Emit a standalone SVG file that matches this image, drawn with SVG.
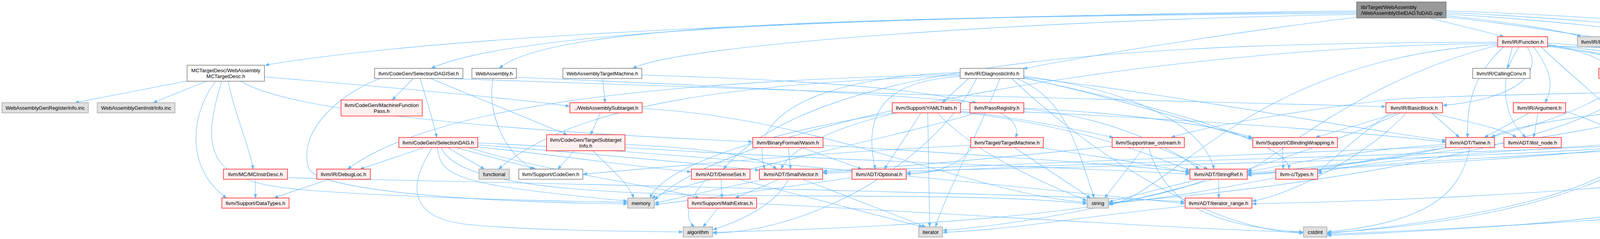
<svg xmlns="http://www.w3.org/2000/svg" width="4851" height="612" viewBox="0 0 4851 612">
<style>
text{font-family:"Liberation Sans",Arial,Helvetica,sans-serif;font-size:13.33px;text-anchor:middle;fill:#000}
.r rect{fill:#fff0f0;stroke:#ff0000;stroke-width:1.3}
.w rect{fill:#ffffff;stroke:#666666;stroke-width:1.3}
.g rect{fill:#e0e0e0;stroke:#999999;stroke-width:1.3}
.m rect{fill:#999999;stroke:#666666;stroke-width:1.3}
.m text{text-anchor:start}
#edges path{fill:none;stroke:#63b8ff;stroke-width:1.1;marker-end:url(#arr)}
</style>
<defs>
<marker id="arr" markerWidth="11" markerHeight="8" refX="10" refY="4" orient="auto" markerUnits="userSpaceOnUse">
<path d="M0,0 L10,4 L0,8 z" fill="#63b8ff" stroke="#63b8ff" stroke-width="0.5"/>
</marker>
</defs>
<rect x="0" y="0" width="4851" height="612" fill="#ffffff"/>
<g id="edges">
<path d="M3473,28 C2600,38 1250,70 679,167"/>
<path d="M3473,31 C2450,42 1350,62 1104,175"/>
<path d="M3473,34 C2300,44 1420,54 1278,175"/>
<path d="M3473,37 C2700,50 1750,110 1620,175"/>
<path d="M3473,44 C3100,90 2750,150 2620,176"/>
<path d="M3660,46 C3720,62 3800,80 3850,94"/>
<path d="M3702,40 C3850,55 4000,78 4048,94"/>
<path d="M3702,36 C3950,50 4200,78 4280,94"/>
<path d="M3702,32 C4000,45 4360,78 4458,94"/>
<path d="M3702,28 C4050,38 4500,75 4655,94"/>
<path d="M3702,44 C3900,60 4200,125 4500,138 C4625,145 4630,205 4580,214 C4400,240 3700,240 3550,256 C3350,280 3100,320 2998,352"/>
<path d="M480,207 L192,263"/>
<path d="M528,208 L392,263"/>
<path d="M617,208 C760,300 1500,345 1926,363"/>
<path d="M584,208 C600,290 640,380 648,433"/>
<path d="M553,208 C500,270 460,420 580,507"/>
<path d="M568,208 C500,420 560,470 800,488 S1400,515 1606,518"/>
<path d="M677,197 C900,215 1300,250 1458,272"/>
<path d="M654,459 L654,507"/>
<path d="M736,455 C1400,470 2800,500 3033,517"/>
<path d="M1058,201 L1004,256"/>
<path d="M1076,201 C1092,260 1110,310 1118,352"/>
<path d="M1102,201 L1452,345"/>
<path d="M1140,201 C1700,225 3000,262 3547,273"/>
<path d="M973,201 C880,235 760,330 790,430 C815,495 1300,520 1606,522"/>
<path d="M1262,201 C1245,300 1300,400 1366,433"/>
<path d="M1322,198 C1800,218 2300,242 2500,263"/>
<path d="M1543,201 L1549,263"/>
<path d="M1643,192 C2200,210 2640,240 2600,352"/>
<path d="M1537,289 L1512,345"/>
<path d="M1644,278 C2100,300 2500,500 2782,518"/>
<path d="M1085,378 L922,433"/>
<path d="M1146,378 L1240,433"/>
<path d="M1167,378 L1372,433"/>
<path d="M1107,378 C1040,480 1050,560 1200,575 S1600,592 1748,594"/>
<path d="M1120,378 C1125,460 1200,475 1606,515"/>
<path d="M1130,378 C1200,560 2300,470 2782,522"/>
<path d="M1223,376 C1450,400 1650,430 1769,440"/>
<path d="M1223,371 C1500,392 1800,420 1943,436"/>
<path d="M1223,366 C1800,390 2700,490 3033,521"/>
<path d="M1200,378 C1400,440 1650,470 1790,507"/>
<path d="M1470,386 L1428,433"/>
<path d="M1518,386 C1560,430 1610,470 1622,507"/>
<path d="M1600,370 C1800,378 1950,400 1988,433"/>
<path d="M1600,378 C2200,415 2800,430 3045,446"/>
<path d="M2018,378 L2024,433"/>
<path d="M2054,378 L2206,433"/>
<path d="M2107,372 C2500,395 2900,425 3045,440"/>
<path d="M2597,378 L2792,507"/>
<path d="M2662,378 C2800,400 2950,420 3045,443"/>
<path d="M2485,372 C2100,390 1700,428 1493,446"/>
<path d="M2490,378 C2450,425 2400,444 2321,446"/>
<path d="M2968,378 L3092,433"/>
<path d="M2928,378 L2828,507"/>
<path d="M2941,378 C2980,520 3100,580 3336,594"/>
<path d="M2847,374 C2600,400 2300,430 2107,438"/>
<path d="M3283,378 L3285,433"/>
<path d="M3701,370 C3500,380 3300,420 3194,440"/>
<path d="M3701,375 C3300,395 2500,422 2107,441"/>
<path d="M3762,378 C3740,500 3650,570 3398,594"/>
<path d="M3705,378 C3400,420 3100,500 2839,521"/>
<path d="M3120,459 L3120,507"/>
<path d="M3068,459 L2839,517"/>
<path d="M3088,459 C2900,540 2400,580 1825,595"/>
<path d="M3034,528 C2800,550 2600,588 2414,595"/>
<path d="M1838,533 L1800,581"/>
<path d="M1937,521 C2500,550 3000,585 3336,595"/>
<path d="M1808,459 C1770,500 1745,555 1778,581"/>
<path d="M1846,459 L1848,507"/>
<path d="M1890,459 L2362,581"/>
<path d="M1960,459 C1850,480 1750,505 1676,520"/>
<path d="M1995,459 L1882,507"/>
<path d="M2018,459 C1990,520 1900,565 1825,588"/>
<path d="M2055,459 L2370,581"/>
<path d="M2181,455 C2000,480 1800,510 1676,524"/>
<path d="M3888,120 L3858,175"/>
<path d="M3909,120 C3950,180 3900,250 3694,270"/>
<path d="M3926,120 C3970,180 3980,220 3955,263"/>
<path d="M3962,113 C4050,130 4100,150 4125,175"/>
<path d="M3962,117 C4150,140 4290,170 4287,263"/>
<path d="M3962,110 C4200,128 4400,150 4448,175"/>
<path d="M3945,120 C4050,220 4150,290 4173,352"/>
<path d="M3962,119 C4300,160 4430,250 4495,352"/>
<path d="M3850,120 C3760,200 3755,290 3757,352"/>
<path d="M3872,120 C3840,230 3850,300 3906,352"/>
<path d="M3834,108 C3000,110 2100,140 1852,433"/>
<path d="M3834,114 C3200,150 3000,500 2839,524"/>
<path d="M3962,118 C4300,125 4640,150 4677,250 C4690,350 4690,420 4660,460 C4600,530 4300,560 3398,600"/>
<path d="M3834,111 C3000,118 1900,300 1676,512"/>
<path d="M3962,116 C4250,140 4450,190 4560,300 C4620,370 4590,400 4400,450 C4000,500 3500,515 3206,522"/>
<path d="M3834,116 C3500,200 3300,380 3194,438"/>
<path d="M3665,289 L3736,352"/>
<path d="M3663,289 C3750,310 3850,330 3882,352"/>
<path d="M3578,289 L3368,352"/>
<path d="M3560,289 C3500,330 3420,400 3374,441"/>
<path d="M3600,289 C3500,400 3300,500 3206,515"/>
<path d="M3585,289 C3300,420 2800,560 2414,590"/>
<path d="M3915,289 L3800,352"/>
<path d="M3937,289 L3926,352"/>
<path d="M4008,285 C4080,310 4130,330 4146,352"/>
<path d="M4188,201 L4268,263"/>
<path d="M4160,201 C4050,320 3600,420 3194,446"/>
<path d="M4172,201 C4200,320 3500,470 2839,519"/>
<path d="M4317,289 L4471,352"/>
<path d="M4211,281 C4000,300 3850,330 3818,352"/>
<path d="M4246,289 C4100,340 3500,420 3194,443"/>
<path d="M4290,289 C4300,400 4000,560 3398,596"/>
<path d="M4122,370 C3800,390 3500,410 3374,444"/>
<path d="M4122,374 C3600,400 2600,420 2321,443"/>
<path d="M4150,378 C3500,420 2500,430 2107,444"/>
<path d="M4160,378 C3900,410 3400,430 3194,446"/>
<path d="M4180,378 C4150,480 3800,560 3398,598"/>
<path d="M4432,373 C4000,390 3500,420 3194,449"/>
<path d="M4507,378 C4480,500 4400,560 3398,603"/>
<path d="M2458,190 C1900,205 1150,240 890,433"/>
<path d="M2458,193 C1900,215 1480,260 1276,433"/>
<path d="M2480,201 L2412,263"/>
<path d="M2458,186 C2200,190 1900,260 1958,433"/>
<path d="M2458,196 C2300,205 2200,260 2241,433"/>
<path d="M2603,201 C2720,250 2750,350 2801,507"/>
<path d="M2621,195 C2900,230 3080,320 3108,433"/>
<path d="M2621,198 C3000,240 3400,320 3702,360"/>
<path d="M2621,199 C2900,260 3100,330 3206,355"/>
<path d="M2621,200 C3100,300 3300,380 3300,433"/>
<path d="M2500,201 C2400,400 2100,590 1825,597"/>
<path d="M2560,201 C2500,350 2420,500 2395,581"/>
<path d="M2590,201 C2800,400 3100,590 3336,597"/>
<path d="M2358,289 L2264,433"/>
<path d="M2375,289 L2380,581"/>
<path d="M2459,285 C2600,300 2750,330 2850,352"/>
<path d="M2300,289 C2150,320 2020,380 2000,433"/>
<path d="M2290,289 C2000,330 1700,420 1664,507"/>
<path d="M2459,287 C2800,330 2950,400 3046,437"/>
<path d="M2400,289 C2500,400 2700,480 2782,514"/>
<path d="M2459,280 C3000,300 3500,340 3702,364"/>
<path d="M2621,279 C2850,300 3000,380 3070,433"/>
<path d="M2500,289 C2300,350 1800,450 1668,507"/>
<path d="M2621,277 C2900,290 3100,320 3206,352"/>
<path d="M841,459 C800,475 730,495 702,507"/>
</g>
<g id="n_main" class="m"><rect x="3473" y="5" width="229" height="41"/><text x="3484" y="23">lib/Target/WebAssembly</text><text x="3484" y="38">/WebAssemblyISelDAGToDAG.cpp</text></g>
<g id="n_func" class="r"><rect x="3834" y="94" width="128" height="26"/><text x="3898" y="112">llvm/IR/Function.h</text></g>
<g id="n_intr" class="g"><rect x="4038" y="94" width="212" height="26"/><text x="4144" y="112">llvm/IR/IntrinsicsWebAssembly.h</text></g>
<g id="n_debug" class="w"><rect x="4274" y="94" width="147" height="26"/><text x="4347.5" y="112">llvm/Support/Debug.h</text></g>
<g id="n_known" class="r"><rect x="4445" y="94" width="173" height="26"/><text x="4531.5" y="112">llvm/Support/KnownBits.h</text></g>
<g id="n_gendag" class="g"><rect x="4643" y="94" width="203" height="26"/><text x="4744.5" y="112">WebAssemblyGenDAGISel.inc</text></g>
<g id="n_mctd" class="w"><rect x="479" y="167" width="198" height="41"/><text x="578" y="185">MCTargetDesc/WebAssembly</text><text x="578" y="200">MCTargetDesc.h</text></g>
<g id="n_dagisel" class="w"><rect x="959" y="175" width="226" height="26"/><text x="1072" y="193">llvm/CodeGen/SelectionDAGISel.h</text></g>
<g id="n_wasmh" class="w"><rect x="1208" y="175" width="114" height="26"/><text x="1265" y="193">WebAssembly.h</text></g>
<g id="n_wtm" class="w"><rect x="1441" y="175" width="202" height="26"/><text x="1542" y="193">WebAssemblyTargetMachine.h</text></g>
<g id="n_diag" class="w"><rect x="2458" y="175" width="163" height="26"/><text x="2539.5" y="193">llvm/IR/DiagnosticInfo.h</text></g>
<g id="n_cc" class="w"><rect x="3770" y="175" width="147" height="26"/><text x="3843.5" y="193">llvm/IR/CallingConv.h</text></g>
<g id="n_gobj" class="r"><rect x="4093" y="175" width="154" height="26"/><text x="4170" y="193">llvm/IR/GlobalObject.h</text></g>
<g id="n_optr" class="r"><rect x="4423" y="175" width="162" height="26"/><text x="4504" y="193">llvm/IR/OperandTraits.h</text></g>
<g id="n_genreg" class="g"><rect x="5" y="263" width="221" height="26"/><text x="115.5" y="281">WebAssemblyGenRegisterInfo.inc</text></g>
<g id="n_geninstr" class="g"><rect x="249" y="263" width="199" height="26"/><text x="348.5" y="281">WebAssemblyGenInstrInfo.inc</text></g>
<g id="n_mfp" class="r"><rect x="873" y="256" width="208" height="41"/><text x="977" y="274">llvm/CodeGen/MachineFunction</text><text x="977" y="289">Pass.h</text></g>
<g id="n_subt" class="r"><rect x="1459" y="263" width="185" height="26"/><text x="1551.5" y="281">../WebAssemblySubtarget.h</text></g>
<g id="n_yaml" class="r"><rect x="2284" y="263" width="175" height="26"/><text x="2371.5" y="281">llvm/Support/YAMLTraits.h</text></g>
<g id="n_passreg" class="r"><rect x="2483" y="263" width="138" height="26"/><text x="2552" y="281">llvm/PassRegistry.h</text></g>
<g id="n_bb" class="r"><rect x="3548" y="263" width="145" height="26"/><text x="3620.5" y="281">llvm/IR/BasicBlock.h</text></g>
<g id="n_arg" class="r"><rect x="3874" y="263" width="134" height="26"/><text x="3941" y="281">llvm/IR/Argument.h</text></g>
<g id="n_gval" class="r"><rect x="4211" y="263" width="148" height="26"/><text x="4285" y="281">llvm/IR/GlobalValue.h</text></g>
<g id="n_sdag" class="r"><rect x="1021" y="352" width="202" height="26"/><text x="1122" y="370">llvm/CodeGen/SelectionDAG.h</text></g>
<g id="n_tsi" class="r"><rect x="1399" y="345" width="201" height="41"/><text x="1499.5" y="363">llvm/CodeGen/TargetSubtarget</text><text x="1499.5" y="378">Info.h</text></g>
<g id="n_wasm" class="r"><rect x="1927" y="352" width="180" height="26"/><text x="2017" y="370">llvm/BinaryFormat/Wasm.h</text></g>
<g id="n_tm" class="r"><rect x="2485" y="352" width="186" height="26"/><text x="2578" y="370">llvm/Target/TargetMachine.h</text></g>
<g id="n_raw" class="r"><rect x="2847" y="352" width="185" height="26"/><text x="2939.5" y="370">llvm/Support/raw_ostream.h</text></g>
<g id="n_cbw" class="r"><rect x="3207" y="352" width="217" height="26"/><text x="3315.5" y="370">llvm/Support/CBindingWrapping.h</text></g>
<g id="n_twine" class="r"><rect x="3701" y="352" width="125" height="26"/><text x="3763.5" y="370">llvm/ADT/Twine.h</text></g>
<g id="n_ilist" class="r"><rect x="3850" y="352" width="147" height="26"/><text x="3923.5" y="370">llvm/ADT/ilist_node.h</text></g>
<g id="n_attr" class="r"><rect x="4122" y="352" width="134" height="26"/><text x="4189" y="370">llvm/IR/Attributes.h</text></g>
<g id="n_dty" class="r"><rect x="4432" y="352" width="158" height="26"/><text x="4511" y="370">llvm/IR/DerivedTypes.h</text></g>
<g id="n_mcid" class="r"><rect x="572" y="433" width="164" height="26"/><text x="654" y="451">llvm/MC/MCInstrDesc.h</text></g>
<g id="n_dloc" class="r"><rect x="811" y="433" width="137" height="26"/><text x="879.5" y="451">llvm/IR/DebugLoc.h</text></g>
<g id="n_functional" class="g"><rect x="1226" y="433" width="78" height="26"/><text x="1265" y="451">functional</text></g>
<g id="n_cg" class="w"><rect x="1328" y="433" width="164" height="26"/><text x="1410" y="451">llvm/Support/CodeGen.h</text></g>
<g id="n_dset" class="r"><rect x="1770" y="433" width="150" height="26"/><text x="1845" y="451">llvm/ADT/DenseSet.h</text></g>
<g id="n_svec" class="r"><rect x="1944" y="433" width="162" height="26"/><text x="2025" y="451">llvm/ADT/SmallVector.h</text></g>
<g id="n_opt" class="r"><rect x="2181" y="433" width="139" height="26"/><text x="2250.5" y="451">llvm/ADT/Optional.h</text></g>
<g id="n_sref" class="r"><rect x="3046" y="433" width="147" height="26"/><text x="3119.5" y="451">llvm/ADT/StringRef.h</text></g>
<g id="n_ctypes" class="r"><rect x="3266" y="433" width="107" height="26"/><text x="3319.5" y="451">llvm-c/Types.h</text></g>
<g id="n_dt" class="r"><rect x="568" y="507" width="172" height="26"/><text x="654" y="525">llvm/Support/DataTypes.h</text></g>
<g id="n_mem" class="g"><rect x="1607" y="507" width="68" height="26"/><text x="1641" y="525">memory</text></g>
<g id="n_math" class="r"><rect x="1761" y="507" width="176" height="26"/><text x="1849" y="525">llvm/Support/MathExtras.h</text></g>
<g id="n_str" class="g"><rect x="2783" y="507" width="55" height="26"/><text x="2810.5" y="525">string</text></g>
<g id="n_irange" class="r"><rect x="3034" y="507" width="171" height="26"/><text x="3119.5" y="525">llvm/ADT/iterator_range.h</text></g>
<g id="n_alg" class="g"><rect x="1749" y="581" width="75" height="26"/><text x="1786.5" y="599">algorithm</text></g>
<g id="n_iter" class="g"><rect x="2352" y="581" width="61" height="26"/><text x="2382.5" y="599">iterator</text></g>
<g id="n_cstdint" class="g"><rect x="3337" y="581" width="60" height="26"/><text x="3367" y="599">cstdint</text></g>
</svg>
